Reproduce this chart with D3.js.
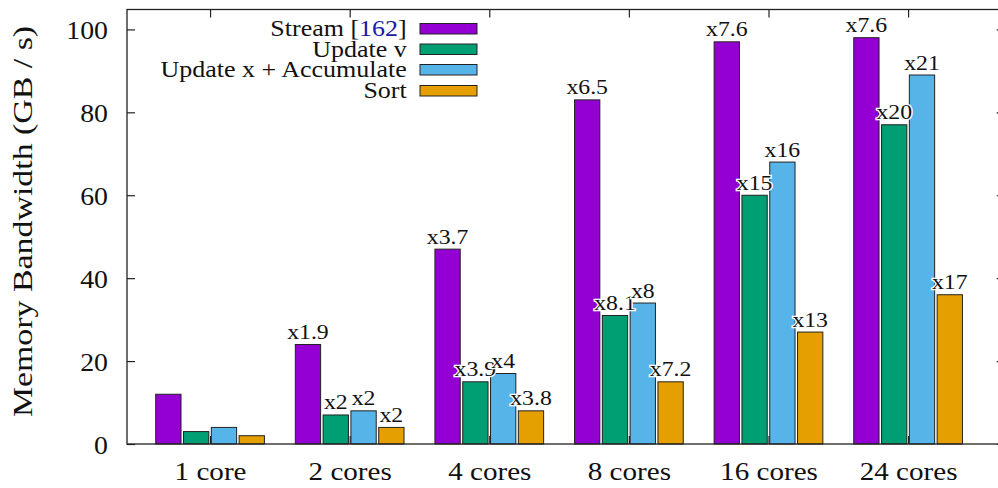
<!DOCTYPE html>
<html><head><meta charset="utf-8">
<script src="https://cdn.jsdelivr.net/npm/d3@7"></script>
<style>
html,body{margin:0;padding:0;background:#fff;}
svg{display:block;}
text{font-family:"Liberation Serif","Times New Roman",serif;fill:#111;}
</style></head>
<body>
<svg id="chart" width="998" height="488"></svg>
<script>
const categories = ["1 core","2 cores","4 cores","8 cores","16 cores","24 cores"];
const seriesNames = ["Stream [162]","Update v","Update x + Accumulate","Sort"];
const seriesColors = ["#9400d3","#009e73","#56b4e9","#e69f00"];
const streamValues  = [12,24,47,83,97,98];
const updateVValues = [3,7,15,31,60,77];
const updateXValues = [4,8,17,34,68,89];
const sortValues    = [2,4,8,15,27,36];
const streamLabels  = ["","x1.9","x3.7","x6.5","x7.6","x7.6"];
const updateVLabels = ["","x2","x3.9","x8.1","x15","x20"];
const updateXLabels = ["","x2","x4","x8","x16","x21"];
const sortLabels    = ["","x2","x3.8","x7.2","x13","x17"];
const yTicks = [0,20,40,60,80,100];
const yTitle = "Memory Bandwidth (GB / s)";

const seriesValues = [streamValues, updateVValues, updateXValues, sortValues];
const seriesLabels = [streamLabels, updateVLabels, updateXLabels, sortLabels];

const svg = d3.select("#chart");
const L = 127, R = 1004.7, T = 9.5, B = 444;
const frameColor = "#222";

const x = d3.scaleLinear().domain([-0.595, 5.692]).range([L, R]);
const y = d3.scaleLinear().domain([0, 104.8]).range([B, T]);
const inner = d3.scaleBand().domain(d3.range(seriesNames.length))
  .range([-55.6, 55.6]).paddingInner(0.09).paddingOuter(0.045);
const idx = d3.range(categories.length);

// axes (ticks inward, drawn beneath bars)
const gL = svg.append("g").attr("transform", `translate(${L},0)`)
  .call(d3.axisLeft(y).tickValues(yTicks).tickSizeInner(-8).tickSizeOuter(0).tickPadding(19));
const gR = svg.append("g").attr("transform", `translate(${R},0)`)
  .call(d3.axisRight(y).tickValues(yTicks).tickSizeInner(-8).tickSizeOuter(0).tickFormat(""));
const gB = svg.append("g").attr("transform", `translate(0,${B})`)
  .call(d3.axisBottom(x).tickValues(idx).tickFormat(i => categories[i]).tickSizeInner(-8).tickSizeOuter(0));
const gT = svg.append("g").attr("transform", `translate(0,${T})`)
  .call(d3.axisTop(x).tickValues(idx).tickSizeInner(-8).tickSizeOuter(0).tickFormat(""));
[gL,gR,gB,gT].forEach(g => {
  g.select(".domain").remove();
  g.selectAll(".tick line").attr("stroke", frameColor).attr("stroke-width", 1.2);
});
gL.selectAll(".tick text")
  .attr("x", 0).attr("dy", null).attr("dominant-baseline", null)
  .attr("transform", "translate(-19,9) scale(1.07,1)")
  .style("font-size", "26px").style("font-family", '"Liberation Serif",serif').attr("fill", "#111");
gB.selectAll(".tick text")
  .attr("y", 0).attr("dy", null)
  .attr("transform", "translate(0,36) scale(1.12,1)")
  .style("font-size", "26px").style("font-family", '"Liberation Serif",serif').attr("fill", "#111");

// bars
const groups = svg.append("g").selectAll("g.series")
  .data(seriesNames.map((n, s) => ({name: n, s})))
  .join("g").attr("class", "series");
groups.selectAll("rect")
  .data(d => idx.map(i => ({s: d.s, i, v: seriesValues[d.s][i]})))
  .join("rect")
  .attr("x", d => x(d.i) + inner(d.s))
  .attr("width", inner.bandwidth())
  .attr("y", d => y(d.v))
  .attr("height", d => y(0) - y(d.v))
  .attr("fill", d => seriesColors[d.s])
  .attr("stroke", "#222").attr("stroke-width", 1);

// frame
svg.append("rect").attr("x", L).attr("y", T).attr("width", R - L).attr("height", B - T)
  .attr("fill", "none").attr("stroke", frameColor).attr("stroke-width", 1.3);

// bar labels
const labelData = [];
seriesLabels.forEach((arr, s) => arr.forEach((t, i) => { if (t) labelData.push({s, i, t, v: seriesValues[s][i]}); }));
svg.append("g").selectAll("text").data(labelData).join("text")
  .attr("text-anchor", "middle")
  .attr("transform", d => `translate(${x(d.i) + inner(d.s) + inner.bandwidth()/2},${y(d.v) - 5.5}) scale(1.08,1)`)
  .style("font-size", "22px")
  .attr("stroke", "#fff").attr("stroke-width", 2.5).attr("paint-order", "stroke")
  .text(d => d.t);

// y title
svg.append("text").attr("text-anchor", "middle")
  .attr("transform", "translate(32,221.5) rotate(-90) scale(1.21,1)")
  .style("font-size", "28px").text(yTitle);

// legend
const leg = svg.append("g");
const rows = [36, 56.5, 77, 98];
seriesNames.forEach((n, s) => {
  const t = leg.append("text").attr("text-anchor", "end")
    .attr("transform", `translate(406.7,${rows[s]}) scale(1.13,1)`).style("font-size", "23px");
  const m = n.match(/^(.*\[)(\d+)(\].*)$/);
  if (m) {
    t.append("tspan").text(m[1]);
    t.append("tspan").attr("fill", "#1a1aa6").style("fill", "#1a1aa6").text(m[2]);
    t.append("tspan").text(m[3]);
  } else t.text(n);
  leg.append("rect").attr("x", 420).attr("y", rows[s] - 12.5).attr("width", 57).attr("height", 10.5)
    .attr("fill", seriesColors[s]).attr("stroke", "#222").attr("stroke-width", 1);
});
</script>
</body></html>
